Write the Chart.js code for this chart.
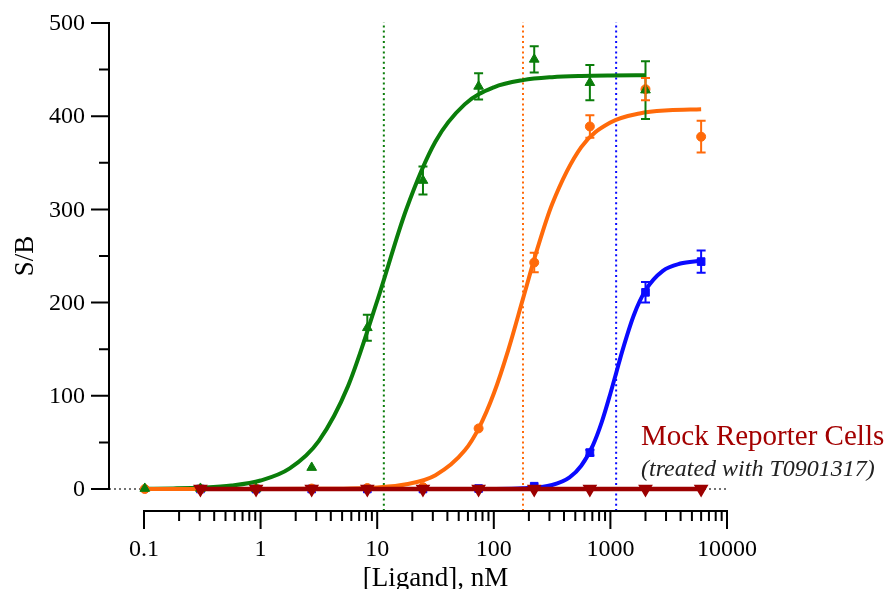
<!DOCTYPE html>
<html>
<head>
<meta charset="utf-8">
<script src="https://cdn.jsdelivr.net/npm/chart.js@4/dist/chart.umd.min.js"></script>
<style>
html,body{margin:0;padding:0;background:#fff;}
#wrap{width:890px;height:589px;position:relative;}
</style>
</head>
<body>
<div id="wrap"><canvas id="c" width="890" height="589"></canvas></div>
<script>
// ---- data ----
const concentrations = [0.1016, 0.3048, 0.9144, 2.743, 8.230, 24.69, 74.07, 222.2, 666.7, 2000, 6000];
const greenValues  = [0.5, 0.5, 0.5, 23, 173, 331, 432, 461, 436, 428];
const greenErrors  = [0, 0, 0, 0, 14, 15, 14, 14, 19, 31];
const orangeValues = [0, 0, 0.5, 0.5, 1, 2, 65, 243, 389, 429, 378];
const orangeErrors = [0, 0, 0, 0, 0, 0, 0, 10.5, 12, 12, 17];
const blueValues   = [null, 0, 0, 0, 0, 0, 0.5, 3, 39, 211, 244];
const blueErrors   = [0, 0, 0, 0, 0, 0, 0, 0, 3, 11, 12];
const mockValues   = [null, 0, 0, 0, 0, 0, 0, 0, 0, 0, 0];

const greenCurveX  = [0.1, 0.1778, 0.3162, 0.5623, 1, 1.778, 3.162, 5.623, 10, 17.78, 31.62, 56.23, 100, 177.8, 316.2, 562.3, 1000, 2000];
const greenCurveY  = [0.2, 0.6, 1.5, 3.7, 9.1, 22.1, 51.7, 110.4, 201.8, 300.2, 372.9, 412.7, 431, 438.7, 441.9, 443.2, 443.7, 443.9];
const orangeCurveX = [0.1, 1, 3.162, 10, 17.78, 31.62, 56.23, 74.99, 100, 133.4, 177.8, 237.1, 316.2, 562.3, 1000, 1778, 3162, 6000];
const orangeCurveY = [0, 0, 0.2, 1.7, 5.1, 14.8, 41.2, 66.2, 102.4, 149.6, 204, 258.4, 305.6, 366.9, 393.2, 402.9, 406.3, 407.5];
const blueCurveX   = [0.3048, 10, 100, 177.8, 316.2, 446.7, 562.3, 707.9, 841.4, 1000, 1122, 1259, 1585, 2000, 2818, 3981, 6000];
const blueCurveY   = [0, 0, 0.1, 0.7, 4.3, 12.6, 25.0, 46.9, 71.5, 102.5, 124.6, 147.2, 186.2, 213.2, 234.1, 241.9, 244.9];

const ec50Values = [11.4, 178, 1120];

const yTickValues = [0, 100, 200, 300, 400, 500];
const yTickLabels = ['0', '100', '200', '300', '400', '500'];
const yMinorTicks = [50, 150, 250, 350, 450];
const xTickValues = [0.1, 1, 10, 100, 1000, 10000];
const xTickLabels = ['0.1', '1', '10', '100', '1000', '10000'];

const xTitle = '[Ligand], nM';
const yTitle = 'S/B';
const noteTitle = 'Mock Reporter Cells';
const noteSub = '(treated with T0901317)';

// ---- styles ----
const GREEN = '#0a7d0a', ORANGE = '#ff6a0a', BLUE = '#0a0aff', MOCK = '#9c0000';
const X_MIN = 0.0501, X_MAX = 10000, Y_MIN = -23.6, Y_MAX = 500;
const SERIF = '"Liberation Serif", "Times New Roman", serif';

function pts(xs, ys) { const out = []; for (let i = 0; i < xs.length; i++) if (ys[i] !== null) out.push({x: xs[i], y: ys[i]}); return out; }

const datasets = [];
datasets.push({label:'baseline', data:[{x:X_MIN,y:0},{x:X_MAX,y:0}], showLine:true, borderColor:'#444', borderWidth:1.5, borderDash:[2,3], pointRadius:0, order:9, clip:false});
[GREEN, ORANGE, BLUE].forEach((c, i) => {
  datasets.push({label:'ec50', data:[{x:ec50Values[i], y:Y_MIN},{x:ec50Values[i], y:501}], showLine:true, borderColor:c, borderWidth:2, borderDash:[2,3.2], pointRadius:0, order:8, clip:false});
});
[[greenCurveX, greenCurveY, GREEN, 5], [blueCurveX, blueCurveY, BLUE, 4], [orangeCurveX, orangeCurveY, ORANGE, 3]].forEach(([xs, ys, c, o]) => {
  datasets.push({label:'curve', data:pts(xs, ys), showLine:true, borderColor:c, borderWidth:4, cubicInterpolationMode:'monotone', pointRadius:0, order:o, clip:false});
});
datasets.push({label:'green', data:pts(concentrations, greenValues), errors:greenErrors, showLine:false, pointStyle:'triangle', pointRadius:5.6, backgroundColor:GREEN, borderColor:GREEN, borderWidth:1, order:2, clip:false});
datasets.push({label:'orange', data:pts(concentrations, orangeValues), errors:orangeErrors, showLine:false, pointStyle:'circle', pointRadius:4.5, backgroundColor:ORANGE, borderColor:ORANGE, borderWidth:1, order:2, clip:false});
datasets.push({label:'blue', data:pts(concentrations, blueValues), errors:blueErrors.slice(1), showLine:false, pointStyle:'rect', pointRadius:5.4, backgroundColor:BLUE, borderColor:BLUE, borderWidth:1, order:2, clip:false});
datasets.push({label:'mock', data:pts(concentrations, mockValues), showLine:true, pointStyle:'triangle', pointRotation:180, pointRadius:4, backgroundColor:MOCK, borderColor:MOCK, borderWidth:4.5, order:0, clip:false});

const errorBars = {
  id:'errorBars',
  afterDatasetsDraw(chart) {
    const ctx = chart.ctx, xs = chart.scales.x, ys = chart.scales.y;
    chart.data.datasets.forEach(ds => {
      if (!ds.errors) return;
      ctx.save();
      ctx.strokeStyle = ds.borderColor; ctx.lineWidth = 2;
      ds.data.forEach((p, i) => {
        const e = ds.errors[i];
        if (!e) return;
        const px = xs.getPixelForValue(p.x), top = ys.getPixelForValue(p.y + e), bot = ys.getPixelForValue(p.y - e);
        ctx.beginPath();
        ctx.moveTo(px, top); ctx.lineTo(px, bot);
        ctx.moveTo(px - 4.5, top); ctx.lineTo(px + 4.5, top);
        ctx.moveTo(px - 4.5, bot); ctx.lineTo(px + 4.5, bot);
        ctx.stroke();
      });
      ctx.restore();
    });
  }
};

const axesAndText = {
  id:'axesAndText',
  afterDraw(chart) {
    const ctx = chart.ctx, xs = chart.scales.x, ys = chart.scales.y, area = chart.chartArea;
    ctx.save();
    ctx.strokeStyle = '#000'; ctx.fillStyle = '#000'; ctx.lineWidth = 2; ctx.lineCap = 'butt';
    const ax = area.left;
    ctx.beginPath();
    ctx.moveTo(ax, ys.getPixelForValue(0) + 1); ctx.lineTo(ax, ys.getPixelForValue(500) - 1);
    yTickValues.forEach(v => { const y = ys.getPixelForValue(v); ctx.moveTo(ax - 18, y); ctx.lineTo(ax, y); });
    yMinorTicks.forEach(v => { const y = ys.getPixelForValue(v); ctx.moveTo(ax - 10, y); ctx.lineTo(ax, y); });
    ctx.stroke();
    ctx.font = '24px ' + SERIF; ctx.textAlign = 'right'; ctx.textBaseline = 'middle';
    yTickValues.forEach((v, i) => ctx.fillText(yTickLabels[i], ax - 24, ys.getPixelForValue(v) + 1));
    const ay = ys.getPixelForValue(Y_MIN);
    ctx.beginPath();
    ctx.moveTo(xs.getPixelForValue(0.1) - 1, ay); ctx.lineTo(xs.getPixelForValue(10000) + 1, ay);
    xTickValues.forEach(v => { const x = xs.getPixelForValue(v); ctx.moveTo(x, ay); ctx.lineTo(x, ay + 18); });
    for (let d = 0; d < xTickValues.length - 1; d++) {
      for (let m = 2; m <= 9; m++) { const x = xs.getPixelForValue(xTickValues[d] * m); ctx.moveTo(x, ay); ctx.lineTo(x, ay + 10); }
    }
    ctx.stroke();
    ctx.textAlign = 'center'; ctx.textBaseline = 'alphabetic';
    xTickValues.forEach((v, i) => ctx.fillText(xTickLabels[i], xs.getPixelForValue(v), ay + 45));
    ctx.font = '27px ' + SERIF;
    ctx.fillText(xTitle, (xs.getPixelForValue(0.1) + xs.getPixelForValue(10000)) / 2, 586);
    ctx.save();
    ctx.translate(33, (ys.getPixelForValue(0) + ys.getPixelForValue(500)) / 2);
    ctx.rotate(-Math.PI / 2);
    ctx.fillText(yTitle, 0, 0);
    ctx.restore();
    ctx.textAlign = 'left';
    ctx.fillStyle = '#a30000';
    ctx.font = '29px ' + SERIF;
    ctx.fillText(noteTitle, 641, 445);
    ctx.fillStyle = '#222';
    ctx.font = 'italic 24px ' + SERIF;
    ctx.fillText(noteSub, 641, 476);
    ctx.restore();
  }
};

new Chart(document.getElementById('c'), {
  type:'scatter',
  data:{datasets},
  options:{
    responsive:false, animation:false, devicePixelRatio:1,
    layout:{padding:{left:109, right:163, top:23, bottom:78}},
    plugins:{legend:{display:false}, tooltip:{enabled:false}},
    scales:{
      x:{type:'logarithmic', min:X_MIN, max:X_MAX, display:false},
      y:{type:'linear', min:Y_MIN, max:Y_MAX, display:false}
    }
  },
  plugins:[errorBars, axesAndText]
});
</script>
</body>
</html>
